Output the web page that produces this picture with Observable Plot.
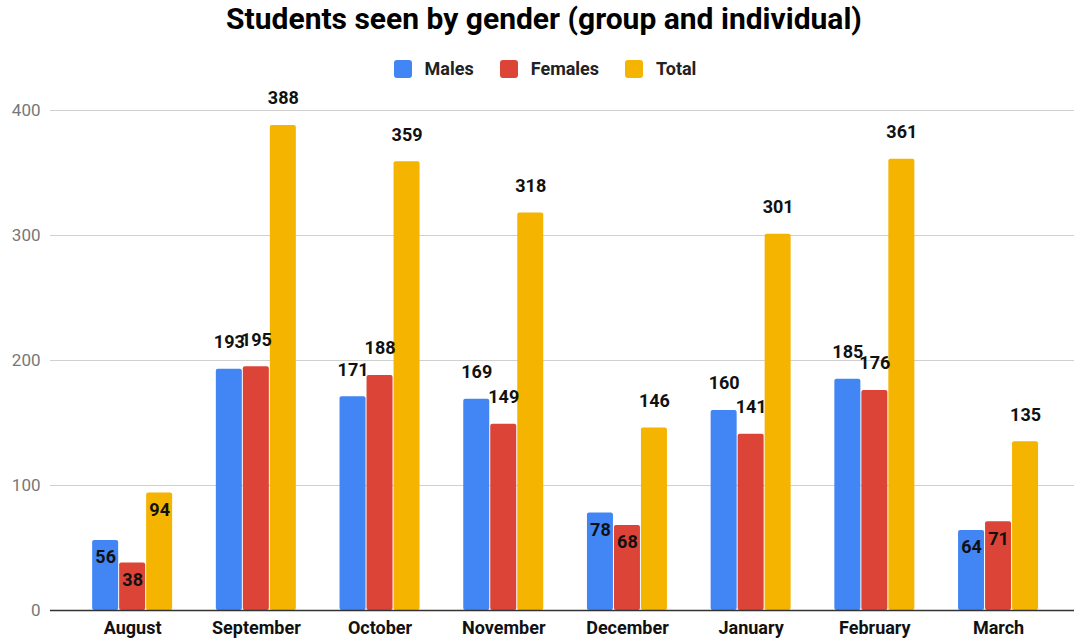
<!DOCTYPE html>
<html>
<head>
<meta charset="utf-8">
<script src="https://cdn.jsdelivr.net/npm/d3@7"></script>
<script src="https://cdn.jsdelivr.net/npm/@observablehq/plot@0.6"></script>
<style>
  body { margin: 0; background: #fff; font-family: Roboto, "Noto Sans", sans-serif; width: 1074px; }
  #title { height: 40px; line-height: 38px; font-size: 30px; font-weight: 700; text-align: center; padding-left: 14px; color: #000; white-space: nowrap; }
  #legend { height: 33px; padding-top: 12px; display: flex; justify-content: center; align-items: center; gap: 26px; padding-left: 16px; font-size: 18px; font-weight: 700; color: #222; }
  .item { display: flex; align-items: center; gap: 13px; }
  .sw { width: 18px; height: 18px; border-radius: 3px; display: inline-block; }
  svg { display: block; }
</style>
</head>
<body>
<div id="title">Students seen by gender (group and individual)</div>
<div id="legend"></div>
<div id="chart"></div>
<script>
const months = ["August", "September", "October", "November", "December", "January", "February", "March"];
const seriesNames = ["Males", "Females", "Total"];
const males = [56, 193, 171, 169, 78, 160, 185, 64];
const females = [38, 195, 188, 149, 68, 141, 176, 71];
const total = [94, 388, 359, 318, 146, 301, 361, 135];
const yTicks = [0, 100, 200, 300, 400];
const colors = ["#4285F4", "#DB4437", "#F4B400"];

const seriesValues = [males, females, total];
const data = [];
seriesNames.forEach((s, si) => months.forEach((m, mi) => data.push({month: m, series: s, value: seriesValues[si][mi]})));

// legend
const legend = document.getElementById("legend");
seriesNames.forEach((s, i) => {
  const it = document.createElement("div");
  it.className = "item";
  it.innerHTML = `<span class="sw" style="background:${colors[i]}"></span><span>${s}</span>`;
  legend.appendChild(it);
});

const width = 1074, height = 555, marginLeft = 50, marginRight = 0;
const paddingOuter = 0.139;
const step = (width - marginLeft - marginRight) / (months.length + 2 * paddingOuter);
const barW = 26, gap = 1;
const inset = (step - barW) / 2;

const marks = [
  Plot.gridY(yTicks, {stroke: "#d0d0d0", strokeOpacity: 1, strokeWidth: 1})
];
seriesNames.forEach((s, i) => {
  const dx = (i - 1) * (barW + gap);
  const rows = data.filter(d => d.series === s);
  marks.push(Plot.barY(rows, {x: "month", y: "value", fill: colors[i], insetLeft: inset + dx, insetRight: inset - dx, rx: 2}));
});
marks.push(Plot.ruleY([0], {stroke: "#333", strokeWidth: 1.5}));
seriesNames.forEach((s, i) => {
  const dx = (i - 1) * (barW + gap);
  const rows = data.filter(d => d.series === s);
  marks.push(Plot.text(rows.filter(d => d.value >= 100), {x: "month", y: "value", text: d => String(d.value), dx, dy: -27, fill: "#111", fontWeight: 700, fontSize: 18}));
  marks.push(Plot.text(rows.filter(d => d.value < 100), {x: "month", y: "value", text: d => String(d.value), dx, dy: 17, fill: "#111", fontWeight: 700, fontSize: 18}));
});

const chart = Plot.plot({
  width, height,
  marginLeft, marginRight, marginTop: 25, marginBottom: 30,
  style: {fontFamily: "Roboto, 'Noto Sans', sans-serif", background: "#fff", overflow: "visible"},
  x: {domain: months, paddingInner: 0, paddingOuter, align: 0.59, round: false, label: null, tickSize: 0, tickPadding: 12},
  y: {domain: [0, 400], ticks: yTicks, label: null, tickSize: 0, tickPadding: 10},
  marks: [
    ...marks,
    Plot.axisX({tickSize: 0, tickPadding: 11, fontSize: 18, fontWeight: 700, fill: "#111", label: null}),
    Plot.axisY(yTicks, {tickSize: 0, tickPadding: 10, fontSize: 17, fill: "#777", label: null})
  ]
});
document.getElementById("chart").appendChild(chart);
</script>
</body>
</html>
